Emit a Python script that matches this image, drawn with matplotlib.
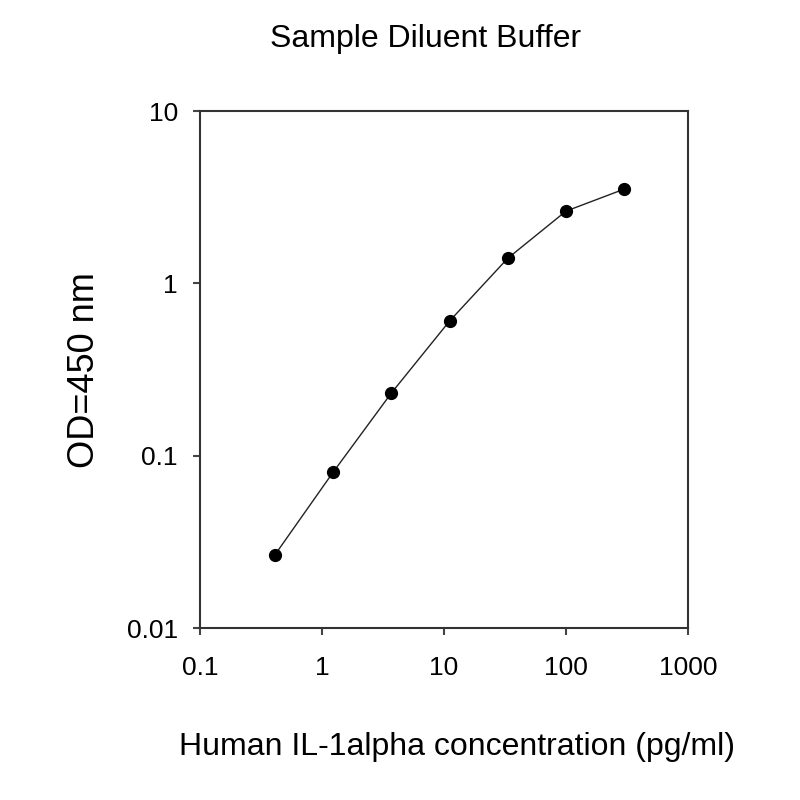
import numpy as np
import matplotlib
matplotlib.use("Agg")
import matplotlib.pyplot as plt
from matplotlib.ticker import FixedLocator, FixedFormatter, NullLocator

# data
conc = [0.41, 1.23, 3.7, 11.1, 33.3, 100, 300]
od = [0.0265, 0.080, 0.231, 0.605, 1.40, 2.63, 3.53]

x_ticks = [0.1, 1, 10, 100, 1000]
x_labels = ["0.1", "1", "10", "100", "1000"]
y_ticks = [0.01, 0.1, 1, 10]
y_labels = ["0.01", "0.1", "1", "10"]

plt.rcParams['font.family'] = ['Liberation Sans', 'DejaVu Sans']

fig = plt.figure(figsize=(8, 8), dpi=100)
ax = fig.add_axes([0.25, 0.215, 0.61, 0.646])

ax.plot(conc, od, "-", color="#222222", linewidth=1.0)
ax.plot(conc, od, "o", color="black", markersize=8.5)

ax.set_xscale("log")
ax.set_yscale("log")
ax.set_xlim(0.1, 1000)
ax.set_ylim(0.01, 10)

ax.xaxis.set_major_locator(FixedLocator(x_ticks))
ax.xaxis.set_major_formatter(FixedFormatter(x_labels))
ax.xaxis.set_minor_locator(NullLocator())
ax.yaxis.set_major_locator(FixedLocator(y_ticks))
ax.yaxis.set_major_formatter(FixedFormatter(y_labels))
ax.yaxis.set_minor_locator(NullLocator())

for s in ax.spines.values():
    s.set_color("#333333")
    s.set_linewidth(1.5)
ax.tick_params(direction="out", length=5, width=1.5, color="#444444",
               labelsize=19)
ax.tick_params(axis="x", pad=15)
ax.tick_params(axis="y", pad=11)

ax.set_xlabel("Human IL-1alpha concentration (pg/ml)", fontsize=23)
ax.xaxis.set_label_coords(0.527, -0.202)
ax.set_ylabel("OD=450 nm", fontsize=26, labelpad=18)
ax.set_title("Sample Diluent Buffer", fontsize=23, pad=46, x=0.463)

fig.savefig("out.png", dpi=100)
